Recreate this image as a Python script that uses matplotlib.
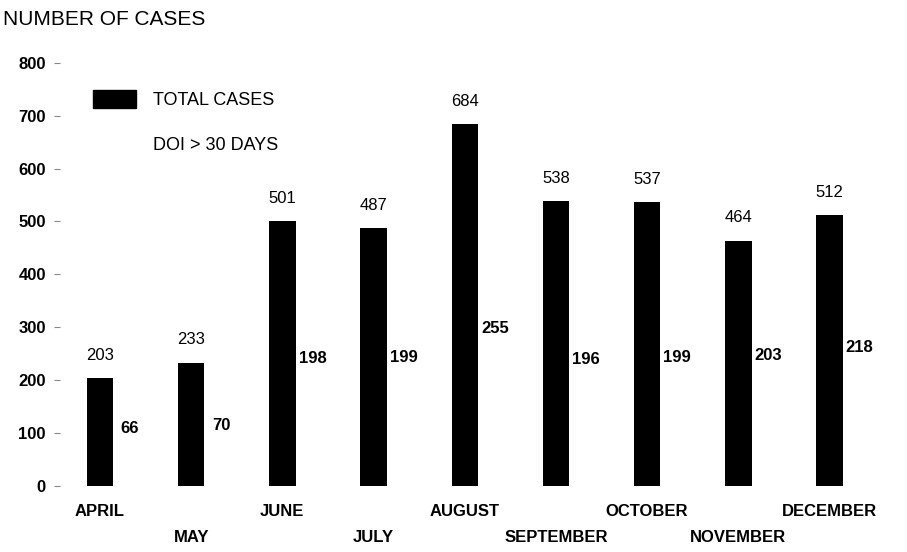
# --- Monthly case counts: total vs DOI > 30 days ---

import numpy as np
import matplotlib.pyplot as plt
from matplotlib.patches import Patch

# --- Data ---

months = ["APRIL", "MAY", "JUNE", "JULY", "AUGUST", "SEPTEMBER",
          "OCTOBER", "NOVEMBER", "DECEMBER"]
total_cases = [203, 233, 501, 487, 684, 538, 537, 464, 512]
doi_over_30 = [66, 70, 198, 199, 255, 196, 199, 203, 218]
y_ticks = [0, 100, 200, 300, 400, 500, 600, 700, 800]

plt.rcParams['font.family'] = ['Liberation Sans', 'DejaVu Sans']

# --- Figure ---

fig = plt.figure(figsize=(9.07, 5.52), dpi=100)
ax = fig.add_axes([0.066, 0.12, 0.934, 0.766])

x = np.arange(len(months))
w = 0.29
ax.bar(x, total_cases, width=w, color='black')
ax.bar(x + 0.33, doi_over_30, width=w, color='white')

for xi, v in zip(x, total_cases):
    ax.annotate(str(v), (xi, v), xytext=(0, 11), textcoords='offset points',
                ha='center', va='bottom', fontsize=12)
for xi, v in zip(x, doi_over_30):
    ax.annotate(str(v), (xi + 0.33, v), xytext=(0, 11), textcoords='offset points',
                ha='center', va='bottom', fontsize=12, fontweight='bold')

# --- Axes styling ---

ax.set_xlim(-0.44, 8.85)
ax.set_ylim(0, 800)
ax.set_yticks(y_ticks)
ax.set_yticklabels([str(t) for t in y_ticks], fontsize=12, fontweight='bold')
ax.set_xticks(x)
ax.set_xticklabels([m if i % 2 == 0 else "\n" + m for i, m in enumerate(months)],
                   fontsize=12, fontweight='bold', linespacing=1.9)
ax.tick_params(axis='x', length=0, pad=13)
ax.tick_params(axis='y', length=4, width=0.8, color='#888888', pad=6)
for s in ax.spines.values():
    s.set_visible(False)

handles = [Patch(facecolor='black', edgecolor='black'),
           Patch(facecolor='white', edgecolor='white')]
ax.legend(handles, ["TOTAL CASES", "DOI > 30 DAYS"], loc='upper left',
          bbox_to_anchor=(0.02, 0.975), frameon=False, fontsize=13,
          handlelength=2.4, handleheight=1.2, labelspacing=1.4, handletextpad=0.9)

fig.text(0.003, 0.965, "NUMBER OF CASES", fontsize=15, va='center', ha='left')

fig.savefig("out.png", dpi=100)
